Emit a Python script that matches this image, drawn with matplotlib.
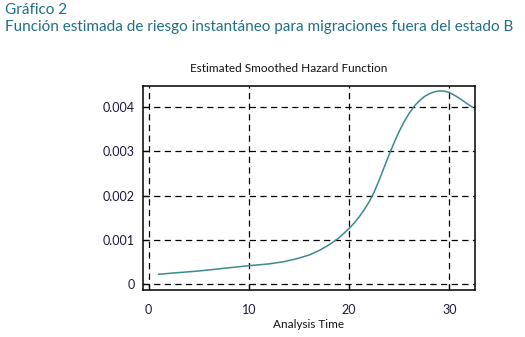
import matplotlib
matplotlib.use("Agg")
import matplotlib.pyplot as plt

# smoothed hazard (analysis time, hazard)
time = [1, 2.5, 5, 7.5, 10, 12, 13.5, 15, 16, 17, 18, 19, 20, 20.5, 21, 21.5,
        22, 22.5, 23, 23.5, 24, 24.5, 25, 25.5, 26, 26.5, 27, 27.5, 28, 28.5,
        29, 29.5, 30, 30.5, 31, 31.5, 32.3]
hazard = [0.000226, 0.000255, 0.00030, 0.00036, 0.00042, 0.00046, 0.00051,
          0.00059, 0.00066, 0.00076, 0.00089, 0.00105, 0.00126, 0.00138,
          0.00152, 0.00168, 0.00186, 0.00208, 0.00235, 0.00264, 0.00293,
          0.00320, 0.00345, 0.00367, 0.00386, 0.00402, 0.00414, 0.004235,
          0.00430, 0.004345, 0.004365, 0.00436, 0.00433, 0.00427, 0.00420,
          0.00412, 0.00400]

xticks = [0, 10, 20, 30]
yticks = [0, 0.001, 0.002, 0.003, 0.004]
ytick_labels = ["0", "0.001", "0.002", "0.003", "0.004"]

plt.rcParams['font.family'] = ['Lato', 'DejaVu Sans']

fig = plt.figure(figsize=(5.25, 3.37), dpi=100)
ax = fig.add_axes([0.2724, 0.1395, 0.6324, 0.6053])

ax.plot(time, hazard, color='#3a8a8f', lw=1.1)

ax.set_xlim(-0.57, 32.57)
ax.set_ylim(-0.000129, 0.004476)
ax.set_xticks(xticks)
ax.set_yticks(yticks)
ax.set_yticklabels(ytick_labels)
ax.grid(True, color='black', linestyle=(0, (5, 3.5)), lw=0.9)
ax.tick_params(direction='in', length=4, width=0.9, labelsize=9,
               labelcolor='#1a1a3a', pad=6)
ax.tick_params(axis='x', pad=10)
for s in ax.spines.values():
    s.set_linewidth(1.1)

ax.set_xlabel("Analysis Time", fontsize=8.5, color='#111111', labelpad=2)
fig.text(289 / 525, 1 - 68 / 337, "Estimated Smoothed Hazard Function",
         ha='center', va='center', fontsize=8.5, color='#111111')

fig.text(5 / 525, 1 - 10 / 337, "Gráfico 2", ha='left', va='center',
         fontsize=11, color='#1f6f86')
fig.text(5 / 525, 1 - 27 / 337,
         "Función estimada de riesgo instantáneo para migraciones fuera del estado B",
         ha='left', va='center', fontsize=11, color='#1f6f86')

fig.savefig("out.png", dpi=100)
